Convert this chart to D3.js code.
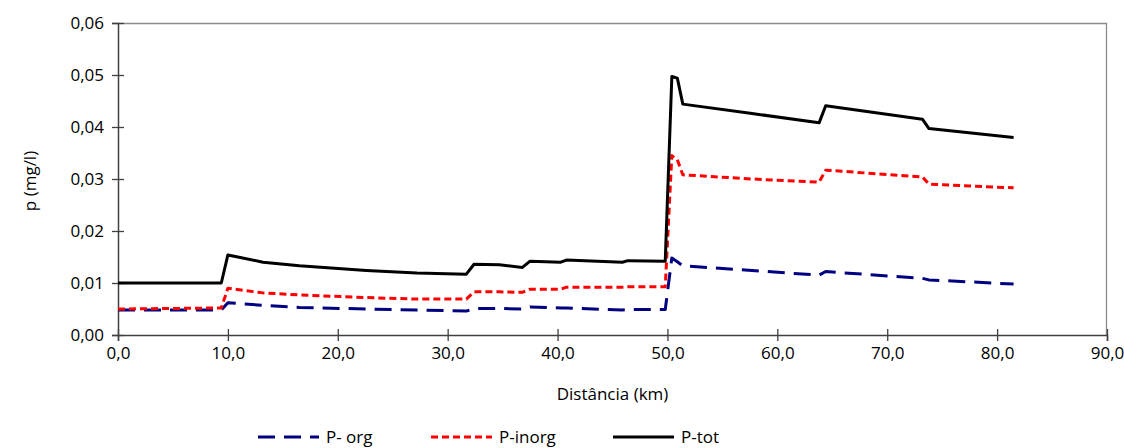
<!DOCTYPE html>
<html>
<head>
<meta charset="utf-8">
<script src="https://cdn.jsdelivr.net/npm/d3@7"></script>
<style>
  body { margin: 0; background: #fff; }
  svg text { font-family: "Open Sans", sans-serif; fill: #000; }
</style>
</head>
<body>
<div id="chart-area"></div>
<script>
// distance along the river (km)
var km = [0, 9.4, 10.0, 13.2, 16.5, 22.6, 27.2, 31.7, 32.4, 34.7, 36.8, 37.5, 40.3, 40.8,
          45.9, 46.4, 49.8, 50.4, 50.9, 51.4, 57.7, 63.8, 64.4, 73.2, 73.8, 81.5];
var pTot = [0.0100, 0.0100, 0.0154, 0.0140, 0.0133, 0.0124, 0.0119, 0.0117, 0.0136, 0.0135,
            0.0130, 0.0142, 0.0140, 0.0144, 0.0140, 0.0143, 0.0142, 0.0497, 0.0494, 0.0444,
            0.0426, 0.0408, 0.0441, 0.0415, 0.0397, 0.0380];
var pInorg = [0.0050, 0.0052, 0.0090, 0.0081, 0.0077, 0.0072, 0.0069, 0.0069, 0.0083, 0.0083,
              0.0082, 0.0088, 0.0088, 0.0092, 0.0092, 0.0093, 0.0093, 0.0345, 0.0337, 0.0308,
              0.0300, 0.0294, 0.0317, 0.0304, 0.0290, 0.0283];
var pOrg = [0.0048, 0.0048, 0.0062, 0.0057, 0.0053, 0.0050, 0.0048, 0.0046, 0.0051, 0.0051,
            0.0050, 0.0054, 0.0052, 0.0052, 0.0048, 0.0049, 0.0049, 0.0148, 0.0141, 0.0133,
            0.0124, 0.0115, 0.0122, 0.0109, 0.0106, 0.0098];

var xTicks = [0, 10, 20, 30, 40, 50, 60, 70, 80, 90];
var yTicks = [0, 0.01, 0.02, 0.03, 0.04, 0.05, 0.06];

var seriesNames = ['P- org', 'P-inorg', 'P-tot'];
var seriesColors = ['#000080', '#ff0000', '#000000'];
var seriesDash = ['17,9', '7,4', null];
var seriesValues = [pOrg, pInorg, pTot];

var margins = { top: 23, bottom: 113, left: 118, right: 17 };
var width = 1124 - margins.left - margins.right;
var height = 448 - margins.top - margins.bottom;

var svg = d3.select('#chart-area')
    .append('svg')
    .attr('width', 1124)
    .attr('height', 448);

var g = svg.append('g')
    .attr('transform', `translate(${margins.left}, ${margins.top})`);

var x = d3.scaleLinear().domain([0, 90]).range([0, width]);
var y = d3.scaleLinear().domain([0, 0.06]).range([height, 0]);

// plot area border (top and right)
g.append('path')
    .attr('d', `M0,0.5H${width - 0.5}V${height}`)
    .attr('fill', 'none')
    .attr('stroke', '#8c8c8c')
    .attr('stroke-width', 1.3);

var fmtX = d => d3.format('.1f')(d).replace('.', ',');
var fmtY = d => d3.format('.2f')(d).replace('.', ',');

var xAxis = g.append('g')
    .attr('transform', `translate(0, ${height})`)
    .call(d3.axisBottom(x).tickValues(xTicks).tickFormat(fmtX).tickSize(6).tickPadding(6));
var yAxis = g.append('g')
    .call(d3.axisLeft(y).tickValues(yTicks).tickFormat(fmtY).tickSize(6).tickPadding(8));

[xAxis, yAxis].forEach(ax => {
    ax.select('.domain').attr('stroke', '#404040').attr('stroke-width', 1.5);
    ax.selectAll('.tick line').attr('stroke', '#404040').attr('stroke-width', 1.3);
    ax.selectAll('.tick text').attr('font-size', '17px').attr('font-family', '"Open Sans", sans-serif');
});
// ticks cross the axis line
xAxis.selectAll('.tick line').attr('y1', -6);
yAxis.selectAll('.tick line').attr('x1', 6);

g.append('text')
    .attr('x', width / 2)
    .attr('y', height + 65)
    .attr('font-size', '17px')
    .attr('text-anchor', 'middle')
    .text('Distância (km)');

g.append('text')
    .attr('transform', 'rotate(-90)')
    .attr('x', -158)
    .attr('y', -82)
    .attr('font-size', '17px')
    .attr('text-anchor', 'middle')
    .text('p (mg/l)');

var line = d3.line()
    .x((d, i) => x(km[i]))
    .y(d => y(d));

seriesValues.forEach((vals, i) => {
    g.append('path')
        .datum(vals)
        .attr('d', line)
        .attr('fill', 'none')
        .attr('stroke', seriesColors[i])
        .attr('stroke-width', 3)
        .attr('stroke-dasharray', seriesDash[i])
        .attr('stroke-linejoin', 'round');
});

// legend
var legendX = [258, 431, 613];
var legend = svg.append('g');
seriesNames.forEach((name, i) => {
    legend.append('line')
        .attr('x1', legendX[i]).attr('x2', legendX[i] + 61)
        .attr('y1', 437).attr('y2', 437)
        .attr('stroke', seriesColors[i])
        .attr('stroke-width', 3)
        .attr('stroke-dasharray', seriesDash[i]);
    legend.append('text')
        .attr('x', legendX[i] + 68)
        .attr('y', 443)
        .attr('font-size', '17px')
        .text(name);
});
</script>
</body>
</html>
